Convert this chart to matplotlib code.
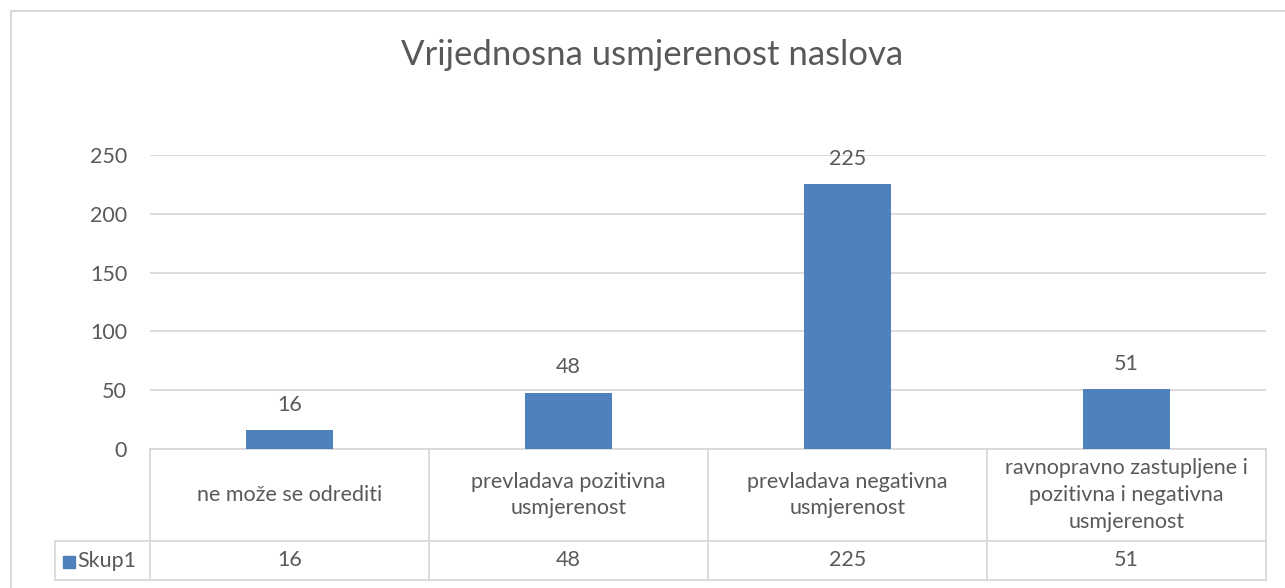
import matplotlib
matplotlib.use('Agg')
import matplotlib.pyplot as plt
from matplotlib.patches import Rectangle
import matplotlib.transforms as mtransforms

# Data
categories = [
    'ne može se odrediti',
    'prevladava pozitivna\nusmjerenost',
    'prevladava negativna\nusmjerenost',
    'ravnopravno zastupljene i\npozitivna i negativna\nusmjerenost',
]
values = [16, 48, 225, 51]
series_name = 'Skup1'
yticks = [0, 50, 100, 150, 200, 250]

BAR_COLOR = '#4f81bd'
TEXT_COLOR = '#595959'
LINE_COLOR = '#d9d9d9'
FS = 15.5

plt.rcParams['font.family'] = ['Lato', 'DejaVu Sans']

W, H = 1285, 588
fig = plt.figure(figsize=(W / 100, H / 100), dpi=100)

# Plot area in pixels
x0, x1 = 150, 1266
y_zero, y_top = 449, 155
ax = fig.add_axes([x0 / W, (H - y_zero) / H, (x1 - x0) / W, (y_zero - y_top) / H])

x = list(range(len(values)))
ax.bar(x, values, width=0.31, color=BAR_COLOR, zorder=3)
ax.set_xlim(-0.5, len(values) - 0.5)
ax.set_ylim(0, 250)
ax.set_yticks(yticks)
ax.set_xticks([])
ax.tick_params(axis='y', length=0, pad=16.5, labelsize=FS, labelcolor=TEXT_COLOR)
ax.grid(axis='y', color=LINE_COLOR, linewidth=1.3, zorder=0)
for s in ax.spines.values():
    s.set_visible(False)

# data labels
for xi, v in zip(x, values):
    ax.annotate(str(v), (xi, v), xytext=(0, 11), textcoords='offset points',
                ha='center', va='bottom', fontsize=FS, color=TEXT_COLOR)

# data table below the plot
trans = mtransforms.blended_transform_factory(ax.transData, ax.transAxes)
row1 = -(541 - y_zero) / (y_zero - y_top)
row2 = -(580 - y_zero) / (y_zero - y_top)
left_cell = -0.5 - (x0 - 55) / ((x1 - x0) / len(values))
xr = len(values) - 0.5

line_kw = dict(color=LINE_COLOR, linewidth=1.3, transform=trans, clip_on=False)
ax.plot([-0.5, xr], [0, 0], **line_kw)
ax.plot([left_cell, xr], [row1, row1], **line_kw)
ax.plot([left_cell, xr], [row2, row2], **line_kw)
for xv in [-0.5 + i for i in range(len(values) + 1)]:
    ax.plot([xv, xv], [0, row2], **line_kw)
ax.plot([left_cell, left_cell], [row1, row2], **line_kw)

for xi, cat, v in zip(x, categories, values):
    ax.text(xi, row1 / 2, cat, transform=trans, ha='center', va='center',
            fontsize=FS, color=TEXT_COLOR, linespacing=1.42)
    ax.text(xi, (row1 + row2) / 2, str(v), transform=trans, ha='center', va='center',
            fontsize=FS, color=TEXT_COLOR)

# legend key in the table
fig.patches.append(Rectangle((63 / W, (H - 568) / H), 12 / W, 12 / H,
                             transform=fig.transFigure, color=BAR_COLOR))
fig.text(77 / W, (H - 561) / H, series_name, ha='left', va='center',
         fontsize=FS, color=TEXT_COLOR)

# title
fig.text(652 / W, (H - 55) / H, 'Vrijednosna usmjerenost naslova', ha='center',
         va='center', fontsize=25, color=TEXT_COLOR)

# chart border (left and top visible)
fig.add_artist(plt.Line2D([10.5 / W, 10.5 / W], [0, (H - 11) / H],
                          transform=fig.transFigure, color=LINE_COLOR, linewidth=1.5))
fig.add_artist(plt.Line2D([10.5 / W, 1], [(H - 11) / H, (H - 11) / H],
                          transform=fig.transFigure, color=LINE_COLOR, linewidth=1.5))

fig.savefig('out.png', dpi=100, facecolor='white')
